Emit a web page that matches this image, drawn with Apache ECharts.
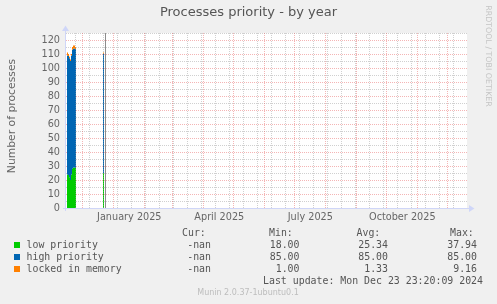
<!DOCTYPE html>
<html><head><meta charset="utf-8">
<script src="https://cdn.jsdelivr.net/npm/echarts@6/dist/echarts.min.js"></script>
<style>html,body{margin:0;padding:0;background:#f0f0f0;}#c{width:497px;height:304px;}</style>
</head><body><div id="c"></div>
<script>
// ---------- data ----------
const title = 'Processes priority - by year';
const yAxisName = 'Number of processes';
const days = ['2024-11-15','2024-11-16','2024-11-17','2024-11-18','2024-11-19','2024-11-20','2024-11-21','2024-11-22','2024-11-23','2024-12-21'];
const lowPriority    = [24, 23.5, 22, 20, 24, 28, 29, 29, 28.5, 25];
const highPriority   = [85, 85, 85, 85, 85, 85, 85, 85, 85, 85];
const lockedInMemory = [2, 1.5, 1, 1, 1, 2, 2, 2, 1.5, 1];
const seriesNames  = ['low priority', 'high priority', 'locked in memory'];
const seriesColors = ['#00CC00', '#0066B3', '#FF8000'];
const curValues = ['-nan', '-nan', '-nan'];
const minValues = ['18.00', '85.00', '1.00'];
const avgValues = ['25.34', '85.00', '1.33'];
const maxValues = ['37.94', '85.00', '9.16'];
const yTicks = [0,10,20,30,40,50,60,70,80,90,100,110,120];
const xLabels = ['January 2025','April 2025','July 2025','October 2025'];
const xLabelMonths = ['2025-01-01','2025-04-01','2025-07-01','2025-10-01'];
const monthLines = ['2024-12-01','2025-01-01','2025-02-01','2025-03-01','2025-04-01','2025-05-01','2025-06-01','2025-07-01','2025-08-01','2025-09-01','2025-10-01','2025-11-01','2025-12-01'];
const nowTime = '2024-12-23T23:20:09Z';
const lastUpdate = 'Last update: Mon Dec 23 23:20:09 2024';
const footer = 'Munin 2.0.37-1ubuntu0.1';
const watermark = 'RRDTOOL / TOBI OETIKER';

// ---------- helpers ----------
const DAY = 86400000;
const t = s => Date.parse(s.length === 10 ? s + 'T00:00:00Z' : s);
const xMin = Date.UTC(2024, 10, 14, 12, 0);
const xMax = xMin + 401 * DAY;
const minorLines = [];
for (let d = t('2024-11-24'); d < xMax; d += 14 * DAY) minorLines.push(d);

const valueSets = [lowPriority, highPriority, lockedInMemory];
// stacked [dayStart, base, top] built from the arrays
function stacked(k) {
  return days.map((d, i) => {
    let base = 0;
    for (let j = 0; j < k; j++) base += valueSets[j][i];
    return [t(d), base, base + valueSets[k][i]];
  });
}

const GRID_GREY = 'rgba(150,150,150,0.45)';
const GRID_RED = 'rgba(230,90,90,0.45)';
const NOW_GREY = '#8c8c8c';
const FONT = 'DejaVu Sans';
const MONO = 'DejaVu Sans Mono';

const chart = echarts.init(document.getElementById('c'), null, {renderer: 'canvas'});

const series = valueSets.map((v, k) => ({
  name: seriesNames[k], type: 'custom', data: stacked(k), z: 3, silent: true, animation: false,
  encode: {x: 0, y: [1, 2]},
  renderItem: (params, api) => {
    const p0 = api.coord([api.value(0), api.value(1)]);
    const p1 = api.coord([api.value(0) + DAY, api.value(2)]);
    const x0 = Math.round(p0[0]), x1 = Math.round(p1[0]);
    return {type: 'rect', shape: {x: x0, y: p1[1], width: Math.max(1, x1 - x0), height: p0[1] - p1[1]},
      style: {fill: seriesColors[k]}};
  }
}));
series.push({
  type: 'line', data: [], z: 1, silent: true, animation: false,
  itemStyle: {color: GRID_GREY}, lineStyle: {color: GRID_GREY},
  markLine: {
    silent: true, animation: false, symbol: ['none', 'none'], label: {show: false},
    lineStyle: {color: GRID_GREY, type: [1, 1], width: 1},
    data: [
      ...minorLines.map(d => ({xAxis: d, lineStyle: {color: GRID_GREY, type: [1, 1], width: 1}})),
      ...monthLines.map(d => ({xAxis: t(d), lineStyle: {color: GRID_RED, type: [1, 1], width: 1}}))
    ]
  }
});
series.push({
  type: 'line', data: [], z: 4, silent: true, animation: false,
  itemStyle: {color: NOW_GREY}, lineStyle: {color: NOW_GREY},
  markLine: {
    silent: true, animation: false, symbol: ['none', 'none'], label: {show: false},
    lineStyle: {color: NOW_GREY, type: 'solid', width: 1},
    data: [{xAxis: t(nowTime), lineStyle: {color: NOW_GREY, type: 'solid', width: 1}}]
  }
});

const yColors = [];
for (let v = 0; v <= 125; v += 5) yColors.push(v % 10 === 0 ? GRID_RED : GRID_GREY);

chart.setOption({
  backgroundColor: '#f0f0f0',
  animation: false,
  grid: {left: 66, right: 30, top: 33, bottom: 96, show: true, backgroundColor: '#ffffff', borderWidth: 0},
  xAxis: {
    type: 'time', min: xMin, max: xMax,
    axisLine: {show: false}, axisTick: {show: false}, axisLabel: {show: false}, splitLine: {show: false}
  },
  yAxis: {
    type: 'value', min: 0, max: 125, interval: 5,
    axisLine: {show: false}, axisTick: {show: false},
    axisLabel: {
      color: '#666', fontFamily: FONT, fontSize: 9.7, margin: 6, showMaxLabel: false,
      formatter: v => yTicks.includes(v) ? String(v) : ''
    },
    splitLine: {show: true, lineStyle: {color: yColors, type: [1, 1], width: 1}}
  },
  series: series
});

// ---------- text & decorations ----------
const g = [];
g.push({type: 'text', left: 'center', top: 6, style: {text: title, fill: '#555', font: '13px "' + FONT + '"'}});
g.push({type: 'text', x: 12.5, y: 116, rotation: Math.PI / 2,
  style: {text: yAxisName, fill: '#666', font: '10.8px "' + FONT + '"', align: 'center', verticalAlign: 'middle'}});
g.push({type: 'text', x: 488, y: 56, rotation: -Math.PI / 2,
  style: {text: watermark, fill: '#c4c4c4', font: '7.9px "' + FONT + '"', align: 'center', verticalAlign: 'middle'}});
// axes
const AX = '#CFD6F8';
g.push({type: 'line', shape: {x1: 63, y1: 208.5, x2: 470, y2: 208.5}, style: {stroke: AX, lineWidth: 1}, z: 10});
g.push({type: 'polygon', shape: {points: [[469, 205], [474.5, 208.5], [469, 212]]}, style: {fill: AX}, z: 10});
g.push({type: 'line', shape: {x1: 65.5, y1: 211, x2: 65.5, y2: 31}, style: {stroke: AX, lineWidth: 1}, z: 10});
g.push({type: 'polygon', shape: {points: [[62, 31], [65.5, 25.5], [69, 31]]}, style: {fill: AX}, z: 10});
// x labels through the axis scale
xLabelMonths.forEach((m, i) => {
  const px = chart.convertToPixel({xAxisIndex: 0}, t(m) + 15.8 * DAY);
  g.push({type: 'text', x: px, y: 217.5,
    style: {text: xLabels[i], fill: '#666', font: '9.7px "' + FONT + '"', align: 'center', verticalAlign: 'middle'}});
});
// legend
const mono = '9.9px "' + MONO + '"';
const hdr = [['Cur:', 182], ['Min:', 269], ['Avg:', 356.5], ['Max:', 450]];
hdr.forEach(h => g.push({type: 'text', x: h[1], y: 233, style: {text: h[0], fill: '#555', font: mono, verticalAlign: 'middle'}}));
const rowsY = [245, 257, 269];
const cols = [[curValues, 211], [minValues, 299.5], [avgValues, 388], [maxValues, 477]];
seriesNames.forEach((n, i) => {
  const y = rowsY[i];
  g.push({type: 'rect', shape: {x: 14, y: y - 3, width: 6, height: 6}, style: {fill: seriesColors[i]}});
  g.push({type: 'text', x: 26.5, y: y, style: {text: n, fill: '#555', font: mono, verticalAlign: 'middle'}});
  cols.forEach(c => g.push({type: 'text', x: c[1], y: y, style: {text: c[0][i], fill: '#555', font: mono, align: 'right', verticalAlign: 'middle'}}));
});
g.push({type: 'text', x: 483, y: 281, style: {text: lastUpdate, fill: '#555', font: mono, align: 'right', verticalAlign: 'middle'}});
g.push({type: 'text', x: 248, y: 293, style: {text: footer, fill: '#bdbdbd', font: '8px "' + FONT + '"', align: 'center', verticalAlign: 'middle'}});

chart.setOption({graphic: g});
</script></body></html>
